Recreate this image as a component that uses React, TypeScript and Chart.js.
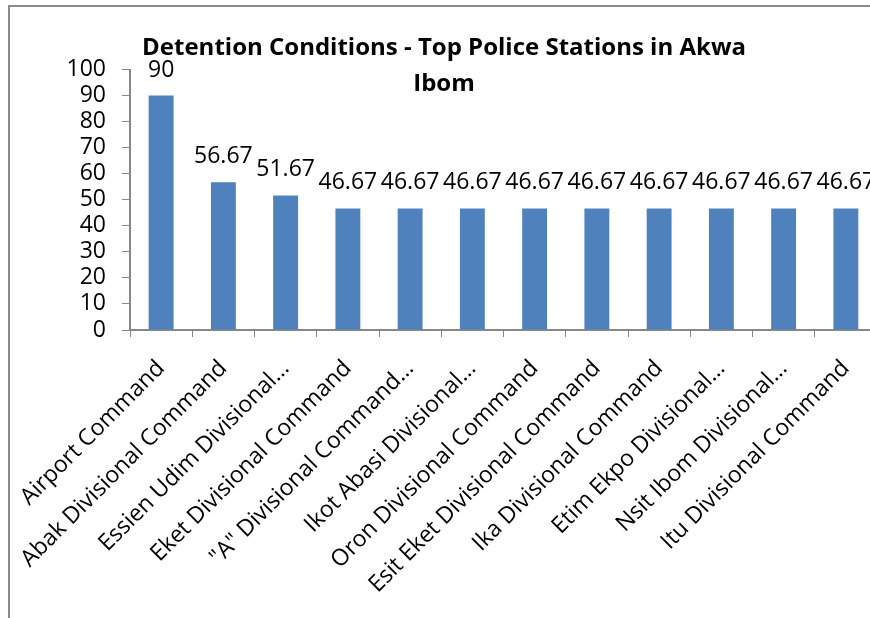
import React, { useEffect, useRef } from "react";
import { Chart, registerables } from "chart.js";

Chart.register(...registerables);

const categories: string[] = [
  "Airport Command",
  "Abak Divisional Command",
  "Essien Udim Divisional…",
  "Eket Divisional Command",
  "\"A\" Divisional Command…",
  "Ikot Abasi Divisional…",
  "Oron Divisional Command",
  "Esit Eket Divisional Command",
  "Ika Divisional Command",
  "Etim Ekpo Divisional…",
  "Nsit Ibom Divisional…",
  "Itu Divisional Command",
];

const values: number[] = [90, 56.67, 51.67, 46.67, 46.67, 46.67, 46.67, 46.67, 46.67, 46.67, 46.67, 46.67];

const titleLines: string[] = ["Detention Conditions - Top Police Stations in Akwa", "Ibom"];

const FONT = '"Open Sans", "Liberation Sans", sans-serif';

const dataLabelPlugin = {
  id: "dataLabels",
  afterDatasetsDraw(chart: any) {
    const ctx = chart.ctx;
    const meta = chart.getDatasetMeta(0);
    ctx.save();
    ctx.font = `23px ${FONT}`;
    ctx.fillStyle = "#000";
    ctx.textAlign = "center";
    ctx.textBaseline = "alphabetic";
    meta.data.forEach((bar: any, i: number) => {
      ctx.fillText(String(values[i]), bar.x, bar.y - 19);
    });
    ctx.restore();
  },
};

const titlePlugin = {
  id: "overlayTitle",
  afterDraw(chart: any) {
    const ctx = chart.ctx;
    ctx.save();
    ctx.font = `bold 24px ${FONT}`;
    ctx.fillStyle = "#000";
    ctx.textAlign = "center";
    ctx.textBaseline = "alphabetic";
    ctx.fillText(titleLines[0], 444, 55);
    ctx.fillText(titleLines[1], 444, 91);
    ctx.restore();
  },
};

export default function App() {
  const ref = useRef<HTMLCanvasElement>(null);

  useEffect(() => {
    if (!ref.current) return;
    Chart.defaults.font.family = FONT;
    const chart = new Chart(ref.current, {
      type: "bar",
      data: {
        labels: categories,
        datasets: [
          {
            data: values,
            backgroundColor: "#4F81BD",
            borderWidth: 0,
            barPercentage: 0.4,
            categoryPercentage: 1,
          },
        ],
      },
      options: {
        responsive: false,
        animation: false,
        devicePixelRatio: 1,
        layout: { padding: { left: 0, top: 69.5, right: 23, bottom: 0 } },
        plugins: {
          legend: { display: false },
          title: { display: false },
          tooltip: { enabled: false },
        },
        scales: {
          x: {
            grid: {
              offset: true,
              drawOnChartArea: false,
              drawTicks: true,
              tickLength: 7,
              color: "#888",
              lineWidth: 1,
            },
            border: { color: "#888", width: 2 },
            ticks: {
              minRotation: 45,
              maxRotation: 45,
              autoSkip: false,
              color: "#000",
              font: { size: 23, family: FONT },
              padding: 18,
            },
            afterFit(scale: any) {
              scale.height = 288;
            },
          },
          y: {
            min: 0,
            max: 100,
            grid: {
              drawOnChartArea: false,
              drawTicks: true,
              tickLength: 8,
              color: "#888",
              lineWidth: 1,
            },
            border: { color: "#888", width: 2 },
            ticks: {
              stepSize: 10,
              autoSkip: false,
              color: "#000",
              font: { size: 23, family: FONT },
              padding: 16,
            },
            afterFit(scale: any) {
              scale.width = 130;
            },
          },
        },
      },
      plugins: [dataLabelPlugin, titlePlugin],
    });
    return () => chart.destroy();
  }, []);

  return (
    <div
      style={{
        position: "fixed",
        left: 0,
        top: 0,
        width: 870,
        height: 618,
        overflow: "hidden",
        background: "#fff",
      }}
    >
      <canvas
        ref={ref}
        width={900}
        height={618}
        style={{ position: "absolute", left: 0, top: 0, width: 900, height: 618 }}
      />
      <div
        style={{
          position: "absolute",
          left: 8,
          top: 5,
          width: 950,
          height: 700,
          border: "2px solid #8a8a8a",
          pointerEvents: "none",
        }}
      />
    </div>
  );
}
